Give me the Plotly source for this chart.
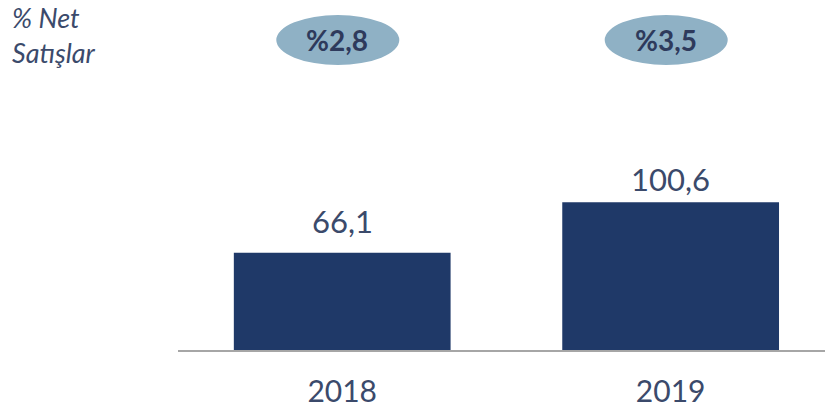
import plotly.graph_objects as go

years = ["2018", "2019"]
values = [66.1, 100.6]
ratio_labels = ["%2,8", "%3,5"]
title_lines = ["% Net", "Satışlar"]

bar_color = "#1F3968"
text_color = "#3B4A6B"
ellipse_color = "#8FB1C5"
font_family = "Lato, 'Open Sans', sans-serif"
label_shifts = [11, 2]        # pixel gap above each bar (style)

fig = go.Figure()
fig.add_trace(go.Bar(
    x=years, y=values, marker_color=bar_color, width=0.66,
    marker_line_width=0, hoverinfo="skip",
))

# value labels
for i, v in enumerate(values):
    fig.add_annotation(
        x=i, y=v, xref="x", yref="y", text=f"{v:.1f}".replace(".", ","),
        showarrow=False, yanchor="bottom", yshift=label_shifts[i],
        font=dict(family=font_family, size=31, color=text_color),
    )

# ratio ellipses
y_anchor = 1 + (60 - 40) / 290
for i, lab in enumerate(ratio_labels):
    fig.add_shape(
        type="circle", xref="x", yref="paper",
        xsizemode="pixel", ysizemode="pixel",
        xanchor=i - 0.015, yanchor=y_anchor,
        x0=-61, x1=62, y0=-25, y1=25,
        fillcolor=ellipse_color, line_width=0, layer="above",
    )
    fig.add_annotation(
        x=i - 0.015, y=y_anchor, xref="x", yref="paper", text=f"<b>{lab}</b>",
        showarrow=False, yanchor="middle", xanchor="center",
        font=dict(family=font_family, size=28, color="#2E3A5C"),
    )

fig.add_annotation(
    x=(11 - 178) / 647, y=1 + (60 - 0) / 290, xref="paper", yref="paper",
    text="<i>" + "<br>".join(title_lines) + "</i>", borderpad=0,
    showarrow=False, xanchor="left", yanchor="top", align="left",
    font=dict(family=font_family, size=27, color=text_color),
)

fig.update_layout(
    width=825, height=410,
    margin=dict(l=178, r=0, t=60, b=60, autoexpand=False),
    plot_bgcolor="white", paper_bgcolor="white",
    showlegend=False, bargap=0.34,
    xaxis=dict(
        type="category", range=[-0.5, 1.47], automargin=False,
        showline=True, linecolor="#A6A6A6", linewidth=2,
        showgrid=False, zeroline=False, ticks="",
        ticklabelstandoff=14,
        tickfont=dict(family=font_family, size=30, color=text_color),
    ),
    yaxis=dict(range=[0, 197.3], visible=False, showgrid=False,
               zeroline=False, automargin=False),
)

fig.write_html(
    "out.html",
    config={"displayModeBar": False},
    post_script="document.body.style.margin='0';document.body.style.overflow='hidden';",
)
